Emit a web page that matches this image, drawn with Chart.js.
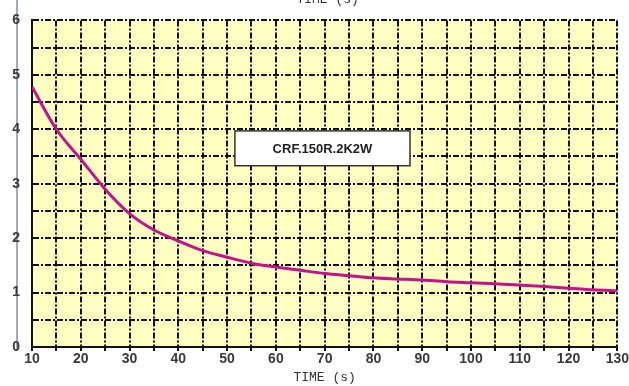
<!DOCTYPE html>
<html>
<head>
<meta charset="utf-8">
<script src="https://cdn.jsdelivr.net/npm/chart.js"></script>
<style>
  html, body { margin: 0; padding: 0; background: #fff; }
  #wrap { width: 629px; height: 386px; position: relative; }
</style>
</head>
<body>
<div id="wrap"><canvas id="c"></canvas></div>
<script>
// 時間 (s) と値
const timeValues = [10, 15, 20, 25, 30, 35, 40, 45, 50, 55, 60, 65, 70, 75, 80, 85, 90, 95, 100, 105, 110, 115, 120, 125, 130];
const curveValues = [4.78, 4.0, 3.45, 2.9, 2.45, 2.15, 1.95, 1.77, 1.65, 1.54, 1.47, 1.41, 1.35, 1.31, 1.27, 1.25, 1.23, 1.2, 1.18, 1.16, 1.14, 1.11, 1.08, 1.05, 1.03];
const xLabelTicks = [10, 20, 30, 40, 50, 60, 70, 80, 90, 100, 110, 120, 130];
const yLabelTicks = [0, 1, 2, 3, 4, 5, 6];
const seriesName = 'CRF.150R.2K2W';
const axisTitle = 'TIME (s)';

// 背景・ラベル枠・上部タイトル
const decorPlugin = {
  id: 'decor',
  beforeDraw(chart) {
    const { ctx, chartArea: a } = chart;
    ctx.save();
    ctx.fillStyle = '#ffffc2';
    ctx.fillRect(a.left, a.top, a.right - a.left, a.bottom - a.top);
    // 左側の細い縦線
    ctx.strokeStyle = '#a4a8c4';
    ctx.lineWidth = 2;
    ctx.beginPath();
    ctx.moveTo(17, 0);
    ctx.lineTo(17, 351);
    ctx.stroke();
    // 上部タイトル（切れている）
    ctx.fillStyle = '#333';
    ctx.font = '13px "Liberation Mono", "DejaVu Sans Mono", monospace';
    ctx.textAlign = 'center';
    ctx.textBaseline = 'bottom';
    ctx.fillText(axisTitle, (a.left + a.right) / 2 + 3, 6);
    ctx.restore();
  },
  afterDatasetsDraw(chart) {
    const { ctx, scales: { x, y } } = chart;
    const x1 = x.getPixelForValue(51.6), x2 = x.getPixelForValue(87.5);
    const y1 = y.getPixelForValue(3.97), y2 = y.getPixelForValue(3.33);
    ctx.save();
    ctx.fillStyle = '#fff';
    ctx.fillRect(x1, y1, x2 - x1, y2 - y1);
    ctx.strokeStyle = '#333';
    ctx.lineWidth = 1.5;
    ctx.strokeRect(x1, y1, x2 - x1, y2 - y1);
    ctx.fillStyle = '#222';
    ctx.font = 'bold 13px "Liberation Sans", Arial, sans-serif';
    ctx.textAlign = 'center';
    ctx.textBaseline = 'middle';
    ctx.fillText(seriesName, (x1 + x2) / 2, (y1 + y2) / 2 + 1);
    ctx.restore();
  }
};

const tickFont = { family: '"Liberation Sans", Arial, sans-serif', size: 14, weight: 'bold' };

new Chart(document.getElementById('c'), {
  type: 'line',
  data: {
    labels: timeValues,
    datasets: [{
      label: seriesName,
      data: timeValues.map((t, i) => ({ x: t, y: curveValues[i] })),
      borderColor: '#c8108e',
      borderWidth: 3,
      pointRadius: 0,
      fill: false,
      cubicInterpolationMode: 'monotone'
    }]
  },
  options: {
    responsive: true,
    maintainAspectRatio: false,
    animation: false,
    layout: { padding: { left: 0, right: 11, top: 16, bottom: 0 } },
    plugins: { legend: { display: false }, tooltip: { enabled: false } },
    scales: {
      x: {
        type: 'linear',
        min: 10,
        max: 130,
        afterFit(scale) { scale.height = 39; },
        ticks: {
          stepSize: 5,
          autoSkip: false,
          maxRotation: 0,
          padding: 0,
          color: '#3a3a3a',
          font: tickFont,
          callback: v => (xLabelTicks.includes(v) ? String(v) : '')
        },
        grid: { color: '#111', lineWidth: 2, tickLength: 4, tickColor: '#111', tickWidth: 2 },
        border: { display: true, color: '#111', width: 2, dash: [6, 2, 2, 2] },
        title: {
          display: true,
          text: axisTitle,
          color: '#333',
          font: { family: '"Liberation Mono", "DejaVu Sans Mono", monospace', size: 13 },
          padding: { top: 0, bottom: 1 }
        }
      },
      y: {
        min: 0,
        max: 6,
        afterFit(scale) { scale.width = 32; },
        ticks: {
          stepSize: 0.5,
          autoSkip: false,
          padding: 12,
          color: '#3a3a3a',
          font: tickFont,
          callback: v => (yLabelTicks.includes(v) ? String(v) : '')
        },
        grid: { color: '#111', lineWidth: 2, drawTicks: false },
        border: { display: true, color: '#111', width: 2, dash: [6, 2, 2, 2] }
      }
    }
  },
  plugins: [decorPlugin]
});
</script>
</body>
</html>
